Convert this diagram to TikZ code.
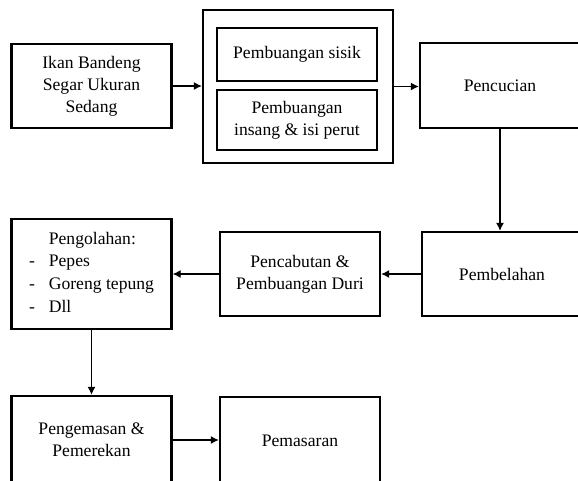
\documentclass[tikz,border=0pt]{standalone}
\usepackage{fontspec}
\setmainfont{Liberation Serif}
\usetikzlibrary{arrows.meta}
\begin{document}
\begin{tikzpicture}[x=1pt,y=-1pt,
  box/.style={draw, line width=2.4pt, minimum width=160pt, align=center,
    font=\fontsize{17.6}{21.8}\selectfont, inner sep=0pt},
  conn/.style={line width=1.1pt, -{Latex[length=8pt,width=8pt]}}]
\useasboundingbox (0,0) rectangle (578,480);
\clip (0,0) rectangle (578,480);
\node[box, minimum height=84pt] (ikan) at (91.5,86) {Ikan Bandeng\\Segar Ukuran\\Sedang};
\node[box, minimum width=190pt, minimum height=153pt] (outer) at (298,86.5) {};
\node[box, minimum height=53pt] (sisik) at (297,54.5) {Pembuangan sisik};
\node[box, minimum height=60pt] (insang) at (297,120) {Pembuangan\\insang \& isi perut};
\node[box, minimum height=85pt] (cuci) at (500,85.5) {Pencucian};
\node[box, minimum height=84pt] (belah) at (502,274) {Pembelahan};
\node[box, minimum height=84pt] (cabut) at (300,274) {Pencabutan \&\\Pembuangan Duri};
\node[box, minimum height=110pt] (olah) at (91.5,274) {%
  \begin{tabular}{@{}l@{\hskip 14pt}l@{}}
  & Pengolahan:\\[1pt]
  - & Pepes\\[1pt]
  - & Goreng tepung\\[1pt]
  - & Dll
  \end{tabular}};
\node[box, minimum height=88pt] (kemas) at (91.5,440) {Pengemasan \&\\Pemerekan};
\node[box, minimum height=88pt] (pasar) at (300,441) {Pemasaran};
\draw[conn] (ikan.east) -- (outer.west |- ikan.east);
\draw[conn] (outer.east) -- (cuci.west |- outer.east);
\draw[conn] (cuci.south) -- (cuci.south |- belah.north);
\draw[conn] (belah.west) -- (cabut.east |- belah.west);
\draw[conn] (cabut.west) -- (olah.east |- cabut.west);
\draw[conn] (olah.south) -- (olah.south |- kemas.north);
\draw[conn] (kemas.east) -- (pasar.west |- kemas.east);
\end{tikzpicture}
\end{document}
